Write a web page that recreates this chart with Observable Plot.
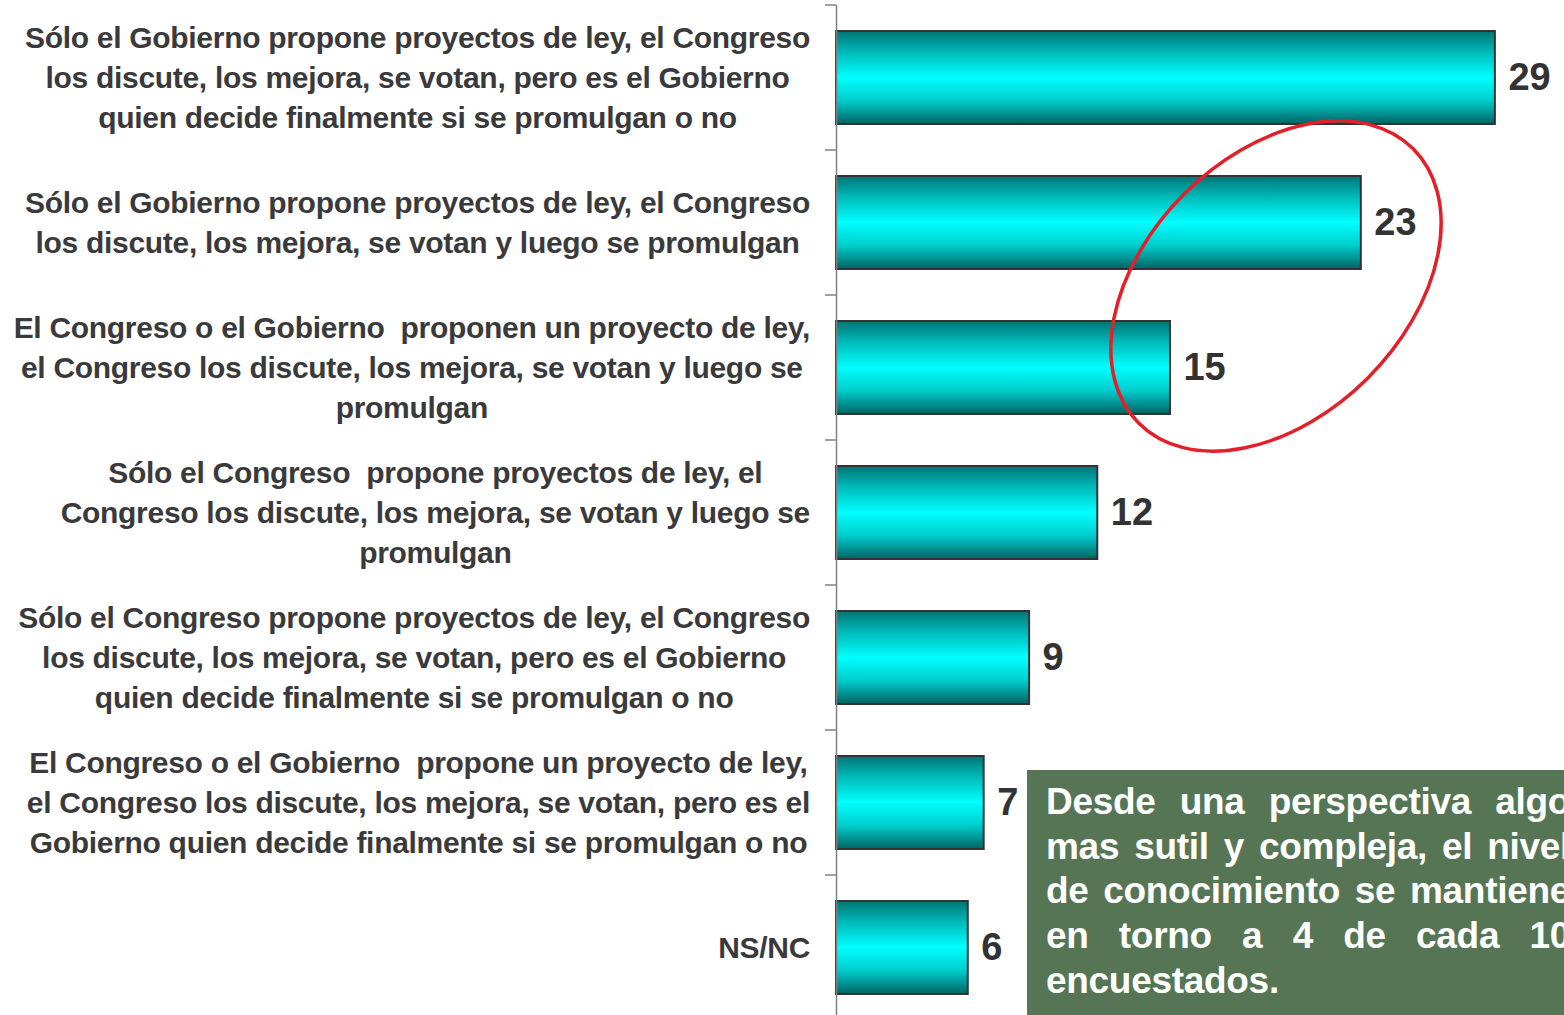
<!DOCTYPE html>
<html>
<head>
<meta charset="utf-8">
<script src="https://cdn.jsdelivr.net/npm/d3@7"></script>
<script src="https://cdn.jsdelivr.net/npm/@observablehq/plot@0.6"></script>
<style>
  html, body { margin: 0; padding: 0; background: #fff; overflow: hidden; }
  #wrap { position: relative; width: 1564px; height: 1015px; overflow: hidden; }
  #note {
    position: absolute; left: 1027px; top: 770px; width: 524px; height: 260px;
    padding: 10px 0 0 19px; background: #557555; color: #fff;
    font-family: "Liberation Sans", Arial, sans-serif; font-weight: bold;
    font-size: 37px; line-height: 44.7px; text-align: justify; letter-spacing: -0.3px;
  }
  svg text { white-space: pre; }
</style>
</head>
<body>
<div id="wrap"></div>
<script>
// ---- data ----
const categories = [
  "Sólo el Gobierno propone proyectos de ley, el Congreso\nlos discute, los mejora, se votan, pero es el Gobierno\nquien decide finalmente si se promulgan o no",
  "Sólo el Gobierno propone proyectos de ley, el Congreso\nlos discute, los mejora, se votan y luego se promulgan",
  "El Congreso o el Gobierno  proponen un proyecto de ley,\nel Congreso los discute, los mejora, se votan y luego se\npromulgan",
  "Sólo el Congreso  propone proyectos de ley, el\nCongreso los discute, los mejora, se votan y luego se\npromulgan",
  "Sólo el Congreso propone proyectos de ley, el Congreso\nlos discute, los mejora, se votan, pero es el Gobierno\nquien decide finalmente si se promulgan o no",
  "El Congreso o el Gobierno  propone un proyecto de ley,\nel Congreso los discute, los mejora, se votan, pero es el\nGobierno quien decide finalmente si se promulgan o no",
  "NS/NC"
];
const values = [29.0, 23.1, 14.7, 11.5, 8.5, 6.5, 5.8];
const valueLabels = ["29", "23", "15", "12", "9", "7", "6"];
const noteText = "Desde una perspectiva algo mas sutil y compleja,  el nivel de conocimiento se mantiene en torno a 4 de cada 10 encuestados.";

const data = categories.map((c, i) => ({label: c, value: values[i], text: valueLabels[i]}));

const W = 1564, H = 1015, ML = 836, MT = 5, MB = -5;
const FONT = "Liberation Sans, Arial, sans-serif";

// boundary ticks on the category axis
function boundaryTicks(index, scales, vals, dims) {
  const y = scales.y;
  const g = d3.create("svg:g");
  const n = categories.length;
  const step = (dims.height - dims.marginTop - dims.marginBottom) / n;
  const x0 = dims.marginLeft;
  const ys = categories.map(c => y(c) + (y.bandwidth ? y.bandwidth() / 2 : 0) - step / 2);
  ys.push(ys[ys.length - 1] + step);
  g.selectAll("line").data(ys).join("line")
    .attr("x1", x0 - 11).attr("x2", x0).attr("y1", d => d).attr("y2", d => d)
    .attr("stroke", "#808080").attr("stroke-width", 1.5);
  return g.node();
}

// red annotation ellipse (decorative)
function annotation(index, scales, vals, dims) {
  const g = d3.create("svg:g");
  g.append("ellipse")
    .attr("cx", 1276).attr("cy", 286).attr("rx", 194).attr("ry", 130)
    .attr("transform", "rotate(-45 1276 286)")
    .attr("fill", "none").attr("stroke", "#e3202a").attr("stroke-width", 3.5);
  return g.node();
}

const chart = Plot.plot({
  width: W, height: H,
  marginLeft: ML, marginRight: 0, marginTop: MT, marginBottom: MB,
  style: {fontFamily: FONT, background: "transparent"},
  x: {domain: [0, (W - ML) / 22.72], axis: null},
  y: {domain: categories, paddingInner: 0.36, paddingOuter: 0.18},
  marks: [
    Plot.axisY({
      tickSize: 0, textAnchor: "middle", fontSize: 30, fontWeight: "bold",
      fill: "#3a3a3c", lineHeight: 1.34, label: null, tickFormat: d => d, dy: -3
    }),
    Plot.barX(data, {x: "value", y: "label", fill: "url(#barGrad)", stroke: "#333", strokeWidth: 2}),
    Plot.text(data, {x: "value", y: "label", text: "text", textAnchor: "start", dx: 13,
      fontSize: 38, fontWeight: "bold", fill: "#333"}),
    Plot.ruleX([0], {stroke: "#808080", strokeWidth: 1.5}),
    boundaryTicks,
    annotation
  ]
});

// gradient definition for bars
const defs = d3.select(chart).insert("defs", ":first-child");
const grad = defs.append("linearGradient").attr("id", "barGrad")
  .attr("x1", 0).attr("y1", 0).attr("x2", 0).attr("y2", 1);
[["0%", "#007474"], ["22%", "#00b8b8"], ["50%", "#00ffff"], ["75%", "#00cccc"], ["100%", "#006262"]]
  .forEach(([o, c]) => grad.append("stop").attr("offset", o).attr("stop-color", c));

const wrap = document.getElementById("wrap");
wrap.append(chart);
const note = document.createElement("div");
note.id = "note";
note.textContent = noteText;
wrap.append(note);

// align each label block so its widest line ends 26px left of the axis
const svgLeft = chart.getBoundingClientRect().left;
chart.querySelectorAll('[aria-label="y-axis tick label"] text').forEach(t => {
  t.style.letterSpacing = "-0.3px";
  const r = t.getBoundingClientRect();
  const dx = (ML - 26) - (r.right - svgLeft);
  t.setAttribute("transform", (t.getAttribute("transform") || "") + ` translate(${dx},0)`);
});
</script>
</body>
</html>
